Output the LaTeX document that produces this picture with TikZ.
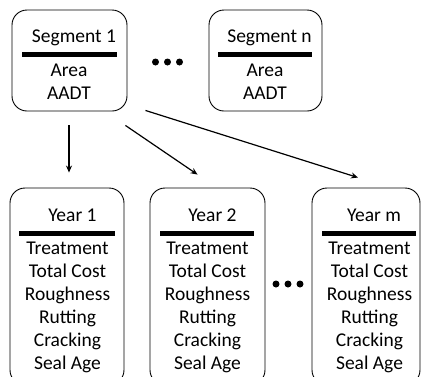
\documentclass[tikz,border=0pt]{standalone}
\usepackage{fontspec}
\setmainfont{Carlito}
\usetikzlibrary{arrows.meta,calc}
\begin{document}
\begin{tikzpicture}[x=1pt,y=-1pt,
  box/.style={draw,line width=0.9pt,rounded corners=15pt,inner sep=0pt},
  lbl/.style={anchor=base,inner sep=0pt,font=\fontsize{19.5}{23}\selectfont},
  bar/.style={line width=5pt},
  arr/.style={line width=1.2pt,-{Stealth[length=7pt,width=6pt]}},
  dotn/.style={fill,circle,inner sep=0pt,minimum size=7pt}]
\useasboundingbox (0,0) rectangle (424,376);
\clip (0,0) rectangle (424,376);
% top boxes
\node[box,minimum width=115pt,minimum height=101pt] (seg1) at (69.5,60.5) {};
\node[box,minimum width=113pt,minimum height=101pt] (segn) at (265.5,60.5) {};
\node[lbl] (seg1t) at (74,42) {Segment 1};
\node[lbl] (seg1a) at (69,76) {Area};
\node[lbl] (seg1b) at (69,99) {AADT};
\node[lbl] (segnt) at (269.5,42) {Segment n};
\node[lbl] (segna) at (265,76) {Area};
\node[lbl] (segnb) at (265,99) {AADT};
\draw[bar] (22,54.5) -- (117,54.5);
\draw[bar] (218,54.5) -- (312,54.5);
\node[dotn] (d1) at (155.5,62) {};
\node[dotn] (d2) at (167.5,62) {};
\node[dotn] (d3) at (179.5,62) {};
% bottom boxes
\node[box,minimum width=114pt,minimum height=197pt] (year1) at (67,286.5) {};
\node[box,minimum width=115pt,minimum height=197pt] (year2) at (207.5,286.5) {};
\node[box,minimum width=108pt,minimum height=197pt] (yearm) at (366,286.5) {};
\node[lbl] (y1t) at (72.5,221) {Year 1};
\node[lbl] (y2t) at (212.5,221) {Year 2};
\node[lbl] (ymt) at (374,221) {Year m};
\draw[bar] (19,233) -- (115,233);
\draw[bar] (160,233) -- (254,233);
\draw[bar] (322,233) -- (416,233);
\foreach \bx/\nm in {67.5/a,207.5/b,369.5/c}{
  \foreach \t [count=\i] in {Treatment,Total Cost,Roughness,Rutting,Cracking,Seal Age}{
    \node[lbl] (l\nm\i) at (\bx,{254+23*(\i-1)}) {\t};
  }
}
\node[dotn] (e1) at (276,284) {};
\node[dotn] (e2) at (288,284) {};
\node[dotn] (e3) at (300,284) {};
% arrows
\draw[arr] ($(seg1.south)+(-0.5,14)$) -- ($(year1.north)+(2,-15)$);
\draw[arr] ($(seg1.south east)+(-2,14)$) -- ($(year2.north west)+(48,-13)$);
\draw[arr] ($(seg1.south east)+(18,-1)$) -- ($(yearm.north)+(-8,-10)$);
\end{tikzpicture}
\end{document}
